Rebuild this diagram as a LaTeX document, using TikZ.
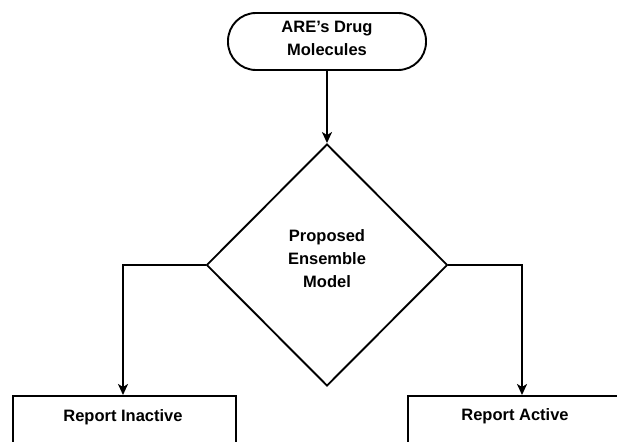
\documentclass[tikz,border=0pt]{standalone}
\usepackage{fontspec}
\setmainfont{Liberation Sans}
\usetikzlibrary{arrows.meta,shapes.geometric}
\begin{document}
\begin{tikzpicture}[x=1pt,y=-1pt,
  every node/.style={font=\fontsize{16.5}{23}\selectfont\bfseries, align=center, inner sep=0pt},
  flowline/.style={line width=1.9pt, -{Stealth[length=11pt,width=10pt,inset=3pt]}},
  shape line/.style={draw, line width=1.9pt},
  terminal/.style={shape line, minimum width=198pt, minimum height=57pt, rounded corners=28pt},
  decision/.style={shape line, diamond, minimum width=241pt, minimum height=242pt},
  outbox/.style={shape line, minimum width=223pt, minimum height=80pt, anchor=north west}
]
\useasboundingbox (0,0) rectangle (617,441);
\clip (0,0) rectangle (617,441);

% start terminal
\node[terminal] (start) at (327,41.5) {};
\node (starttext) at (327,38) {ARE’s Drug\\Molecules};

% decision diamond
\node[decision] (model) at (327,265) {};
\node (modeltext) at (327,259) {Proposed\\Ensemble\\Model};

% outcome boxes (cut by the lower edge)
\node[outbox] (inactive) at (12,395) {};
\node (inactivetext) at (123,417) {Report Inactive};
\node[outbox] (active) at (407,395) {};
\node (activetext) at (515,416) {Report Active};

% connectors
\draw[flowline] (start.south) -- (model.north);
\draw[flowline] (model.west) -| (inactive.north west -| 123,0);
\draw[flowline] (model.east) -| (active.north west -| 522,0);
\end{tikzpicture}
\end{document}
